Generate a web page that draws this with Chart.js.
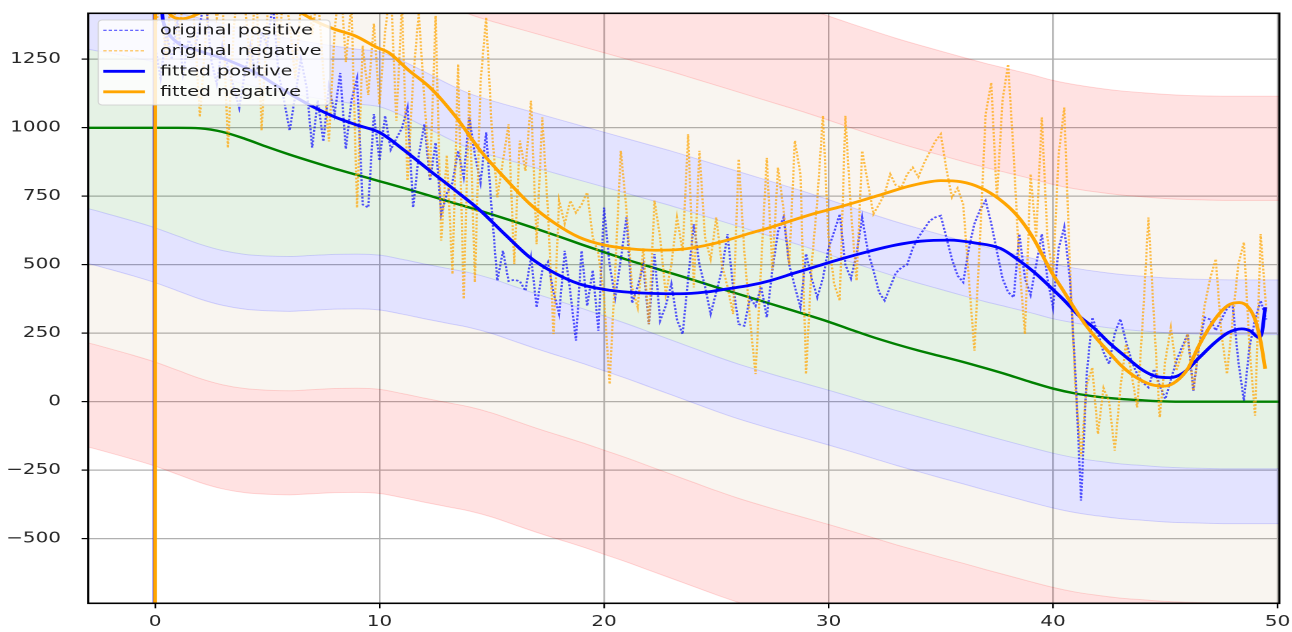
<!DOCTYPE html>
<html>
<head>
<meta charset="utf-8">
<script src="https://cdn.jsdelivr.net/npm/chart.js@4.4.1/dist/chart.umd.min.js"></script>
<style>
  html, body { margin: 0; padding: 0; background: #fff; overflow: hidden; }
  /* the figure is drawn narrow and widened horizontally */
  #wrap { position: absolute; left: 0; top: 0; width: 970px; height: 632px;
          transform: scaleX(1.331959); transform-origin: 0 0; }
</style>
</head>
<body>
<div id="wrap"><canvas id="c" width="970" height="632"></canvas></div>
<script>
// ---- axis settings ----
const xTicks = [0, 10, 20, 30, 40, 50];
const yTicks = [-500, -250, 0, 250, 500, 750, 1000, 1250];
const xMin = -2.97, xMax = 50.08;
const yMin = -736, yMax = 1418;

// ---- raw samples, one every 0.25 starting at x = 0 ----
const sampleStep = 0.25;
const originalPositive = [
  1300,1180,1350,1250,1400,1200,1320,1280,1380,1480,1250,1160,1300,1220,1150,1073,
  1200,1300,1180,1350,1300,1460,1200,1100,990,1120,1250,1150,928,1100,950,1150,
  1050,1200,923,1100,1180,720,709,1050,880,1044,920,960,1000,1074,709,900,
  1013,807,946,685,760,800,916,820,1038,900,800,983,700,442,551,440,
  445,440,405,527,344,480,510,400,320,551,400,223,551,350,480,259,
  709,500,380,520,673,360,420,500,283,539,296,350,430,300,247,450,
  648,500,420,320,400,480,612,420,283,277,380,350,420,308,480,620,
  673,500,420,344,540,450,381,450,560,620,685,500,450,540,673,550,
  480,400,369,420,470,490,500,560,600,630,660,673,679,600,520,460,
  436,560,650,700,734,650,550,450,400,381,612,450,390,500,612,450,
  344,560,637,450,100,-361,100,308,250,180,138,250,302,220,150,100,
  70,52,119,60,10,80,150,200,247,40,200,308,300,260,300,340,
  356,150,4,200,300,369,300
];
const originalNegative = [
  1350,1480,1250,1530,1300,1460,1620,1380,1040,1320,1560,1400,1480,927,1350,1600,
  1460,1220,1540,990,1400,1660,1300,1500,1380,1180,1450,1600,1340,1500,1200,950,
  1350,1560,1240,1450,708,1300,1120,1380,1086,1350,1520,1026,1450,807,1180,1420,
  1100,820,1409,588,900,466,1232,375,1135,436,1165,1403,1000,746,880,1013,
  503,953,843,1099,575,1038,700,247,734,650,734,690,720,764,600,540,
  380,64,480,916,700,417,344,560,283,734,600,393,500,673,550,977,
  417,916,600,520,673,500,420,320,886,550,300,101,500,890,480,855,
  700,500,953,831,101,500,734,1044,600,430,369,1044,700,442,916,800,
  685,720,760,831,790,782,830,855,820,870,910,950,977,850,746,780,
  720,450,186,600,1050,1165,740,1100,1232,900,500,247,831,600,1038,600,
  454,900,1074,500,52,-200,60,125,-118,50,0,-179,50,210,100,-21,
  300,673,300,-57,150,271,113,180,247,40,200,350,450,521,250,101,
  300,500,582,200,-51,612,330
];

// ---- fitted curves ----
const fitPosX = [-0.025,-0.005,0.2,0.5,1.0,2.0,3.3,4.5,5.5,6.3,7.1,8.0,9.0,10.0,11.1,12.25,13.4,14.5,15.6,16.7,
  17.8,18.9,20.0,21.2,22.3,23.4,24.5,25.5,26.5,27.4,28.5,29.5,30.5,31.9,33.0,34.1,35.4,36.5,37.65,38.5,
  39.2,39.9,40.5,41.2,41.8,42.5,43.3,44.0,44.6,45.2,45.8,46.5,47.2,47.8,48.4,48.8,49.15,49.3,49.45];
const fitPosY = [-4000,4000,1600,1360,1311,1280,1245,1200,1150,1110,1074,1040,1010,983,918,843,770,697,610,527,
  470,430,410,399,395,394,400,412,425,442,470,495,520,551,572,586,590,580,560,515,
  470,417,370,310,271,215,160,115,92,88,105,160,215,252,266,258,235,250,345];
const fitNegX = [0,0.02,0.2,0.5,0.8,1.2,1.6,2.5,3.5,4.5,5.5,6.5,7.25,8.0,8.9,9.9,10.4,11.3,12.25,13.4,
  14.5,15.6,16.7,17.8,18.9,20.0,21.2,22.3,23.4,24.5,25.5,26.5,27.4,28.5,29.5,30.4,31.5,32.5,33.5,34.3,
  35.0,35.9,36.8,37.6,38.4,39.1,39.9,40.5,41.0,41.5,42.0,42.5,43.0,43.5,44.0,44.5,45.0,45.5,46.0,46.5,
  47.2,47.8,48.3,48.7,49.0,49.25,49.45];
const fitNegY = [-4000,4000,1700,1440,1405,1398,1405,1440,1470,1475,1460,1420,1385,1360,1336,1293,1275,1210,1147,1040,
  916,815,722,652,600,572,558,553,556,570,590,615,636,665,690,709,735,760,785,800,
  807,803,780,740,680,600,478,400,335,275,225,180,135,100,75,60,57,75,120,205,
  300,352,362,345,300,220,120];

// ---- baseline and the bands around it ----
const gridX = [-4,-3,-2,-1,0,1,2,3,4,5,6,7,8,9,10,11,12,13,14,15,16,17,18,19,20,21,22,23,24,25,26,27,
  28,29,30,31,32,33,34,35,36,37,38,39,40,41,42,43,44,45,46,47,48,49,50,51];
const baseline = [1000,1000,1000,1000,1000,1000,998,985,960,930,902,876,851,828,805,782,758,733,709,684,658,631,
  603,574,546,519,494,469,444,418,393,368,343,318,292,263,235,210,187,166,145,122,98,72,48,30,18,10,5,1,0,0,0,0,0,0];
const bandMidUpper = [1060,1042,1028,1012,995,975,955,935,915,897,880,866,853,842,832,800,760,718,680,654,631,608,
  585,562,539,516,493,470,445,420,395,370,345,320,293,265,238,212,188,165,142,120,100,80,58,42,30,20,13,7,3,1,0,0,0,0];
const bandMidLower = [965,950,928,905,880,850,820,797,783,777,775,779,783,784,780,765,748,732,716,694,666,638,
  612,586,558,530,500,470,440,410,382,357,333,310,287,263,238,213,190,167,145,122,100,78,57,40,28,18,12,6,3,1,0,0,0,0];
const bandOffsets = [245, 445, 735, 1115];

const pts = (xs, ys) => xs.map((x, i) => ({ x, y: ys[i] }));
const samples = ys => ys.map((y, i) => ({ x: i * sampleStep, y }));

// band boundaries, outermost upper first
const upper = bandOffsets.map(o => gridX.map((x, i) => ({ x, y: bandMidUpper[i] + o }))).reverse();
const lower = bandOffsets.map(o => gridX.map((x, i) => ({ x, y: bandMidLower[i] - o })));
const boundaries = upper.concat(lower);
const RED = 'rgba(255,0,0,0.115)', CREAM = 'rgba(200,160,110,0.10)', BLUE = 'rgba(0,0,255,0.11)', GREEN = 'rgba(0,128,0,0.10)';
const fills = [RED, CREAM, BLUE, GREEN, BLUE, CREAM, RED, null];
const edges = ['rgba(255,0,0,0.14)','rgba(255,0,0,0.14)','rgba(0,0,255,0.14)','rgba(0,0,255,0.14)',
               'rgba(0,0,255,0.14)','rgba(0,0,255,0.14)','rgba(255,0,0,0.14)','rgba(255,0,0,0.14)'];

const bandSets = boundaries.map((data, i) => ({
  label: 'band' + i,
  data,
  borderColor: edges[i],
  borderWidth: 1,
  backgroundColor: fills[i] || 'rgba(0,0,0,0)',
  fill: fills[i] ? { target: i + 1 } : false,
  pointRadius: 0,
  cubicInterpolationMode: 'monotone',
  order: 10,
  inLegend: false
}));

const lineSets = [
  { label: 'baseline', data: pts(gridX, baseline), borderColor: 'green', borderWidth: 2.4,
    pointRadius: 0, cubicInterpolationMode: 'monotone', fill: false, order: 6, inLegend: false },
  { label: 'original positive', data: samples(originalPositive), borderColor: 'rgba(0,0,255,0.68)',
    borderWidth: 1.7, borderDash: [1.9, 1.6], pointRadius: 0, tension: 0, fill: false, order: 5, inLegend: true },
  { label: 'original negative', data: samples(originalNegative), borderColor: 'rgba(255,165,0,0.72)',
    borderWidth: 1.7, borderDash: [1.9, 1.6], pointRadius: 0, tension: 0, fill: false, order: 4, inLegend: true },
  { label: 'fitted positive', data: pts(fitPosX, fitPosY), borderColor: '#0000ff', borderWidth: 2.8,
    pointRadius: 0, cubicInterpolationMode: 'monotone', fill: false, order: 3, inLegend: true },
  { label: 'fitted negative', data: pts(fitNegX, fitNegY), borderColor: '#ffa500', borderWidth: 2.8,
    pointRadius: 0, cubicInterpolationMode: 'monotone', fill: false, order: 2, inLegend: true }
];

const FONT = { family: 'DejaVu Sans', size: 15 };
const tickText = v => (v < 0 ? '\u2212' + Math.abs(v) : String(v));

// black frame round the plotting area
const framePlugin = {
  id: 'frame',
  afterDatasetsDraw(chart) {
    const { ctx, chartArea: a } = chart;
    ctx.save();
    ctx.strokeStyle = '#000';
    ctx.lineWidth = 1.6;
    ctx.strokeRect(a.left, a.top, a.right - a.left, a.bottom - a.top);
    ctx.restore();
  }
};

// legend box in the upper left corner
const boxLegend = {
  id: 'boxLegend',
  afterDatasetsDraw(chart) {
    const { ctx, chartArea: a } = chart;
    const items = chart.data.datasets.filter(d => d.inLegend);
    const bx = a.left + 7.5, by = a.top + 6.7, bw = 174, bh = 85, r = 3;
    ctx.save();
    ctx.beginPath();
    ctx.moveTo(bx + r, by);
    ctx.arcTo(bx + bw, by, bx + bw, by + bh, r);
    ctx.arcTo(bx + bw, by + bh, bx, by + bh, r);
    ctx.arcTo(bx, by + bh, bx, by, r);
    ctx.arcTo(bx, by, bx + bw, by, r);
    ctx.closePath();
    ctx.fillStyle = 'rgba(255,255,255,0.8)';
    ctx.fill();
    ctx.strokeStyle = 'rgba(204,204,204,0.8)';
    ctx.lineWidth = 1;
    ctx.stroke();
    items.forEach((d, i) => {
      const cy = by + 10.3 + i * 20.5;
      ctx.beginPath();
      ctx.setLineDash(d.borderDash ? [2.4, 1.6] : []);
      ctx.strokeStyle = d.borderColor;
      ctx.lineWidth = d.borderDash ? 1.2 : d.borderWidth;
      ctx.moveTo(bx + 3.8, cy);
      ctx.lineTo(bx + 35.1, cy);
      ctx.stroke();
      ctx.setLineDash([]);
      ctx.fillStyle = '#1a1a1a';
      ctx.font = '14.4px "DejaVu Sans"';
      ctx.textBaseline = 'middle';
      ctx.textAlign = 'left';
      ctx.fillText(d.label, bx + 46.3, cy + 0.5);
    });
    ctx.restore();
  }
};

new Chart(document.getElementById('c'), {
  type: 'line',
  data: { datasets: bandSets.concat(lineSets) },
  options: {
    responsive: false,
    animation: false,
    devicePixelRatio: 2,
    layout: { padding: { left: 0, right: 9.53, top: 13.3, bottom: 0 } },
    plugins: { legend: { display: false }, tooltip: { enabled: false } },
    scales: {
      x: {
        type: 'linear', min: xMin, max: xMax,
        afterBuildTicks: s => { s.ticks = xTicks.map(v => ({ value: v })); },
        afterFit: s => { s.height = 28.7; s.paddingLeft = 0; s.paddingRight = 0; },
        ticks: { font: FONT, color: '#262626', padding: 5, maxRotation: 0, autoSkip: false, callback: tickText },
        grid: { color: '#b0b0b0', lineWidth: 1.2, tickColor: '#000', tickLength: 5, drawTicks: true },
        border: { display: false }
      },
      y: {
        type: 'linear', min: yMin, max: yMax,
        afterBuildTicks: s => { s.ticks = yTicks.map(v => ({ value: v })); },
        afterFit: s => { s.width = 66.29; s.paddingTop = 0; s.paddingBottom = 0; },
        ticks: { font: FONT, color: '#262626', padding: 15.5, autoSkip: false, callback: tickText },
        grid: { color: '#b0b0b0', lineWidth: 1.2, tickColor: '#000', tickLength: 5, drawTicks: true },
        border: { display: false }
      }
    }
  },
  plugins: [framePlugin, boxLegend]
});
</script>
</body>
</html>
